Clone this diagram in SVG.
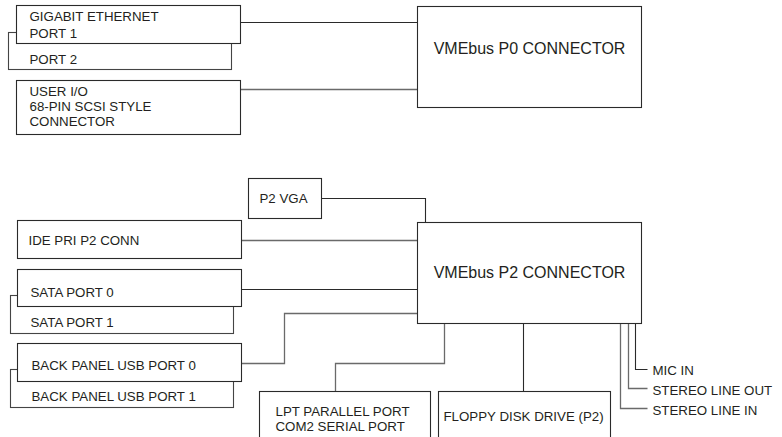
<svg xmlns="http://www.w3.org/2000/svg" width="782" height="437" viewBox="0 0 782 437">
<style>
.box{fill:#fff;stroke:#2a2a2a;stroke-width:1.1}
.back{fill:#fff;stroke:#444;stroke-width:1.1}
.ln{fill:none;stroke:#2a2a2a;stroke-width:1.1}
.lg{fill:none;stroke:#6a6a6a;stroke-width:1.3}
text{font-family:"Liberation Sans",Arial,sans-serif;font-size:13.3px;fill:#231f20}
.big{font-size:16px;text-anchor:middle}
</style>
<rect width="782" height="437" fill="#fff"/>
<g transform="translate(0.5 0.5)">
<g id="connectors">
<path class="ln" d="M240 22H417"/>
<path class="lg" d="M240 89H417"/>
<path class="ln" d="M321 198H425V222"/>
<path class="lg" d="M241 240H417"/>
<path class="ln" d="M241 289H417"/>
<path class="lg" d="M241 363H284V313H417"/>
<path class="lg" d="M444 323V363H335V391"/>
<path class="ln" d="M523 323V391"/>
<path class="lg" d="M620 323V408H647"/>
<path class="lg" d="M628 323V388H647"/>
<path class="ln" d="M635 323V369H647"/>
</g>
<g id="port2"><rect class="back" x="8" y="32" width="223" height="37"/><text x="29" y="63">PORT 2</text></g>
<g id="gige"><rect class="box" x="16" y="5" width="224" height="38"/><text x="29" y="20">GIGABIT ETHERNET</text><text x="29" y="37">PORT 1</text></g>
<g id="userio"><rect class="box" x="16" y="80" width="224" height="54"/><text x="29" y="95">USER I/O</text><text x="29" y="110">68-PIN SCSI STYLE</text><text x="29" y="125">CONNECTOR</text></g>
<g id="p0"><rect class="box" x="417" y="6" width="224" height="101"/><text class="big" x="529" y="53">VMEbus P0 CONNECTOR</text></g>
<g id="vga"><rect class="box" x="248" y="178" width="73" height="40"/><text x="259" y="202">P2 VGA</text></g>
<g id="ide"><rect class="box" x="17" y="220" width="224" height="38"/><text x="28" y="244">IDE PRI P2 CONN</text></g>
<g id="sata1"><rect class="back" x="10" y="295" width="223" height="38"/><text x="30" y="326">SATA PORT 1</text></g>
<g id="sata0"><rect class="box" x="17" y="269" width="224" height="37"/><text x="30" y="296">SATA PORT 0</text></g>
<g id="usb1"><rect class="back" x="10" y="369" width="223" height="38"/><text x="31" y="400">BACK PANEL USB PORT 1</text></g>
<g id="usb0"><rect class="box" x="17" y="343" width="224" height="38"/><text x="31" y="369">BACK PANEL USB PORT 0</text></g>
<g id="p2"><rect class="box" x="417" y="222" width="224" height="101"/><text class="big" x="529" y="277">VMEbus P2 CONNECTOR</text></g>
<g id="lpt"><rect class="box" x="259" y="391" width="171" height="60"/><text x="275" y="415">LPT PARALLEL PORT</text><text x="275" y="430">COM2 SERIAL PORT</text></g>
<g id="floppy"><rect class="box" x="438" y="391" width="172" height="60"/><text x="443" y="420">FLOPPY DISK DRIVE (P2)</text></g>
<g id="audio"><text x="652" y="374">MIC IN</text><text x="652" y="394">STEREO LINE OUT</text><text x="652" y="414">STEREO LINE IN</text></g>
</g>
</svg>
